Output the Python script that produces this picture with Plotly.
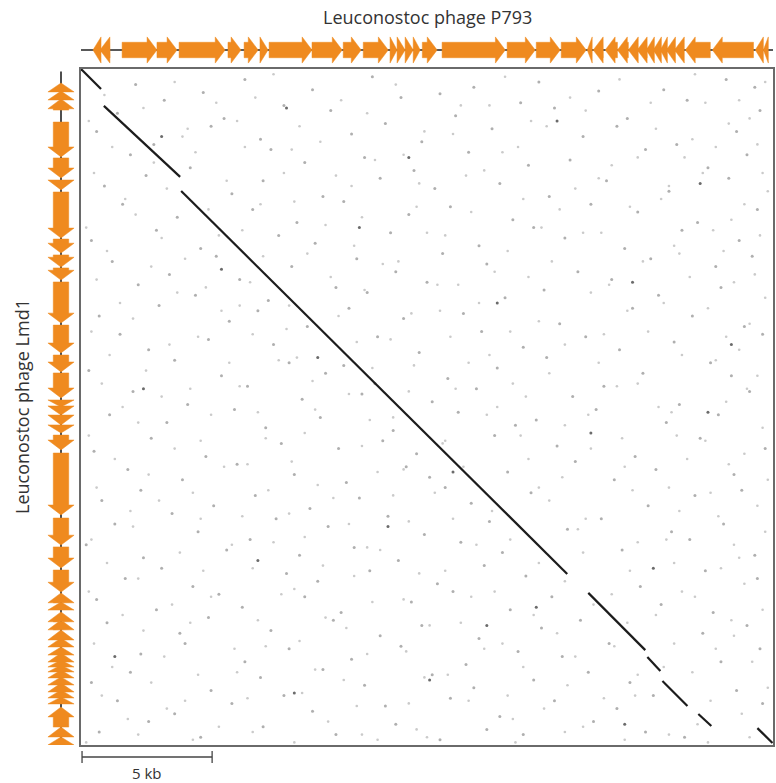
import plotly.graph_objects as go

# ---- genome lengths (kb) ----
len_p793 = 26.6
len_lmd1 = 26.0

# ---- gene map of Leuconostoc phage P793 (x axis), kb ----
p793_start = [0.46, 0.73, 1.58, 2.92, 3.77, 5.65, 6.27, 6.88, 7.23, 8.88, 10.08, 10.85,
              11.88, 12.15, 12.46, 12.77, 13.12, 13.88, 16.38, 17.50, 18.46, 19.46, 19.69,
              20.15, 20.62, 21.04, 21.38, 21.73, 22.00, 22.27, 22.50, 22.81, 23.23, 24.27,
              25.92, 26.23]
p793_end = [0.77, 1.12, 2.92, 3.69, 5.54, 6.15, 6.81, 7.19, 8.88, 10.04, 10.77, 11.81,
            12.15, 12.46, 12.77, 13.04, 13.69, 16.31, 17.46, 18.42, 19.42, 19.65, 20.08,
            20.62, 21.04, 21.42, 21.77, 22.04, 22.31, 22.54, 22.85, 23.19, 24.19, 25.85,
            26.23, 26.42]
p793_strand = ['-', '-', '+', '+', '+', '+', '+', '+', '+', '+', '+', '+',
               '+', '+', '+', '+', '+', '+', '+', '+', '+', '-', '-',
               '-', '-', '-', '-', '-', '-', '-', '-', '-', '-', '-',
               '-', '-']

# ---- gene map of Leuconostoc phage Lmd1 (y axis), kb ----
lmd1_start = [0.54, 0.85, 1.15, 2.04, 3.42, 4.27, 4.73, 6.54, 7.15, 7.65, 8.19, 9.85,
              11.00, 11.69, 12.73, 12.96, 13.31, 13.69, 14.08, 14.77, 17.27, 18.38, 19.27,
              20.15, 20.50, 20.88, 21.19, 21.58, 21.88, 22.23, 22.46, 22.73, 22.92, 23.12,
              23.38, 23.62, 23.88, 24.15, 24.54, 25.31, 25.69]
lmd1_end = [0.88, 1.19, 1.58, 3.38, 4.19, 4.65, 6.50, 7.08, 7.62, 8.12, 9.77, 10.92,
            11.65, 12.65, 13.00, 13.31, 13.69, 14.00, 14.65, 17.15, 18.31, 19.19, 20.12,
            20.54, 20.81, 21.27, 21.58, 21.96, 22.23, 22.54, 22.81, 23.00, 23.19, 23.42,
            23.69, 23.96, 24.19, 24.42, 25.31, 25.69, 26.00]
lmd1_strand = ['-', '-', '-', '+', '+', '+', '+', '+', '+', '+', '+', '+',
               '+', '+', '+', '+', '+', '+', '+', '+', '+', '+', '+',
               '-', '-', '-', '-', '-', '-', '-', '-', '-', '-', '-',
               '-', '-', '-', '-', '-', '-', '-']

# ---- collinear match segments (P793 kb -> Lmd1 kb) ----
seg_x0 = [0.00, 0.88, 3.85, 19.50, 21.77, 22.35, 23.73, 26.00]
seg_y0 = [0.00, 1.42, 4.69, 20.15, 22.62, 23.54, 24.81, 25.35]
seg_x1 = [0.77, 3.81, 18.69, 21.69, 22.27, 23.31, 24.23, 26.58]
seg_y1 = [0.77, 4.15, 19.42, 22.35, 23.15, 24.50, 25.27, 25.92]

# ---- scattered short word matches (P793 kb, Lmd1 kb) ----
dot_x = [2.1, 4.7, 6.3, 8.9, 11.2, 13.8, 15.1, 17.6, 19.9, 22.4, 24.8, 25.9,
         1.4, 3.2, 5.5, 7.8, 9.6, 12.3, 14.4, 16.9, 18.2, 21.0, 23.3, 26.1,
         0.6, 2.8, 5.0, 6.9, 10.4, 11.7, 13.1, 15.8, 19.3, 20.6, 22.9, 25.2,
         1.9, 4.2, 7.3, 8.6, 10.9, 12.8, 14.9, 17.2, 18.8, 21.7, 24.1, 25.6,
         0.9, 2.5, 5.8, 7.0, 9.3, 11.5, 13.6, 16.1, 18.0, 20.2, 22.6, 24.9,
         1.6, 3.7, 6.6, 8.3, 10.1, 12.6, 14.2, 16.6, 19.6, 21.4, 23.7, 26.0,
         0.4, 2.9, 4.6, 7.6, 9.0, 11.9, 15.3, 17.4, 18.6, 20.9, 23.1, 25.3,
         1.2, 3.4, 5.2, 8.1, 10.6, 12.1, 13.9, 15.6, 19.1, 21.9, 24.4, 25.8,
         2.2, 4.4, 6.1, 7.2, 9.8, 11.0, 13.3, 16.3, 17.8, 20.4, 22.2, 24.6,
         0.7, 3.0, 5.7, 6.8, 8.7, 10.3, 12.4, 14.7, 18.4, 21.2, 23.5, 25.5,
         1.5, 2.6, 4.9, 7.4, 11.4, 13.0, 15.4, 17.0, 19.4, 20.7, 22.8, 26.2,
         0.3, 3.6, 5.4, 8.0, 9.4, 10.1, 14.1, 16.0, 17.9, 21.6, 24.2, 25.0,
         2.0, 4.1, 6.4, 8.5, 10.8, 11.3, 13.5, 15.2, 18.9, 20.1, 23.0, 25.7,
         1.1, 3.3, 5.9, 7.1, 9.2, 12.0, 14.5, 16.7, 17.5, 19.8, 22.5, 24.5,
         0.5, 2.7, 4.8, 7.7, 9.9, 11.6, 12.9, 15.9, 18.3, 21.3, 23.8, 26.3,
         1.8, 3.9, 6.0, 8.2, 10.2, 12.5, 13.4, 16.4, 19.0, 20.5, 22.1, 25.1,
         0.8, 2.3, 5.1, 6.7, 8.8, 10.7, 14.0, 15.0, 17.3, 21.8, 23.6, 25.4,
         1.3, 3.5, 4.5, 7.5, 9.5, 11.8, 13.2, 15.7, 18.7, 20.0, 22.7, 24.7,
         0.2, 2.4, 5.6, 6.5, 8.4, 10.5, 12.2, 14.6, 16.2, 20.8, 23.4, 25.9,
         1.7, 3.1, 4.3, 7.9, 9.1, 11.1, 13.7, 15.5, 17.1, 21.5, 24.0, 26.0,
         0.6, 2.9, 5.3, 6.2, 8.6, 10.0, 12.7, 14.3, 16.5, 18.1, 22.3, 24.3,
         1.0, 3.8, 4.9, 7.3, 9.7, 11.5, 13.1, 15.3, 17.7, 19.2, 23.9, 25.6,
         2.3, 4.0, 6.3, 8.0, 10.4, 12.3, 14.8, 16.8, 18.5, 20.3, 24.6, 26.1,
         0.4, 1.9, 5.0, 6.9, 9.3, 10.9, 13.5, 15.1, 17.4, 19.5, 21.1, 25.2,
         1.4, 3.6, 5.8, 7.8, 8.9, 11.7, 14.2, 16.1, 18.2, 20.6, 22.0, 26.2,
         0.7, 2.6, 4.6, 7.0, 9.8, 12.1, 13.8, 15.6, 17.0, 19.7, 21.7, 23.2]
dot_y = [0.6, 0.9, 0.4, 0.8, 0.3, 0.95, 0.7, 0.5, 0.85, 0.8, 0.4, 0.7,
         1.7, 1.2, 1.9, 1.4, 1.6, 1.1, 1.8, 1.3, 1.5, 1.9, 1.2, 1.6,
         2.4, 2.9, 2.2, 2.7, 2.5, 2.1, 2.8, 2.3, 2.6, 2.2, 2.9, 2.4,
         3.3, 3.8, 3.1, 3.6, 3.4, 3.9, 3.2, 3.7, 3.5, 3.1, 3.8, 3.3,
         4.5, 4.1, 4.8, 4.3, 4.9, 4.2, 4.6, 4.4, 4.9, 4.3, 4.7, 4.2,
         5.2, 5.7, 5.4, 5.9, 5.1, 5.6, 5.3, 5.8, 5.2, 5.5, 5.9, 5.4,
         6.6, 6.2, 6.9, 6.4, 6.7, 6.3, 6.8, 6.1, 6.5, 6.9, 6.2, 6.6,
         7.4, 7.9, 7.2, 7.6, 7.3, 7.8, 7.1, 7.5, 7.8, 7.3, 7.6, 7.2,
         8.3, 8.7, 8.1, 8.9, 8.4, 8.6, 8.2, 8.8, 8.5, 8.1, 8.7, 8.4,
         9.5, 9.1, 9.7, 9.3, 9.9, 9.2, 9.6, 9.4, 9.8, 9.2, 9.5, 9.9,
         10.2, 10.8, 10.4, 10.6, 10.3, 10.9, 10.1, 10.7, 10.3, 10.8, 10.5, 10.2,
         11.6, 11.2, 11.8, 11.3, 11.7, 11.4, 11.9, 11.5, 11.1, 11.7, 11.3, 11.8,
         12.4, 12.9, 12.2, 12.7, 12.5, 12.1, 12.8, 12.3, 12.6, 12.2, 12.9, 12.4,
         13.3, 13.6, 13.1, 13.8, 13.4, 13.9, 13.2, 13.7, 13.5, 13.1, 13.6, 13.3,
         14.7, 14.2, 14.9, 14.4, 14.6, 14.3, 14.8, 14.1, 14.5, 14.9, 14.2, 14.6,
         15.4, 15.8, 15.2, 15.6, 15.9, 15.3, 15.7, 15.5, 15.1, 15.8, 15.4, 15.6,
         16.6, 16.2, 16.8, 16.4, 16.9, 16.5, 16.1, 16.7, 16.3, 16.8, 16.4, 16.2,
         17.5, 17.1, 17.8, 17.3, 17.6, 17.2, 17.9, 17.4, 17.7, 17.3, 17.8, 17.5,
         18.3, 18.8, 18.5, 18.1, 18.7, 18.4, 18.9, 18.2, 18.6, 18.5, 18.1, 18.7,
         19.6, 19.2, 19.9, 19.4, 19.7, 19.3, 19.8, 19.1, 19.5, 19.9, 19.3, 19.6,
         20.4, 20.8, 20.2, 20.7, 20.3, 20.9, 20.5, 20.1, 20.8, 20.3, 20.6, 20.9,
         21.3, 21.7, 21.1, 21.6, 21.2, 21.8, 21.4, 21.9, 21.5, 21.2, 21.7, 21.4,
         22.5, 22.1, 22.8, 22.3, 22.7, 22.2, 22.9, 22.4, 22.6, 22.1, 22.8, 22.3,
         23.6, 23.2, 23.9, 23.4, 23.1, 23.7, 23.3, 23.8, 23.5, 23.2, 23.6, 23.9,
         24.3, 24.8, 24.4, 24.1, 24.7, 24.5, 24.2, 24.9, 24.3, 24.6, 24.1, 24.4,
         25.5, 25.1, 25.7, 25.3, 25.6, 25.2, 25.8, 25.4, 25.6, 25.1, 25.5, 25.7]

faint_x = [0.9, 3.6, 5.2, 7.4, 10.0, 12.1, 14.6, 16.3, 18.8, 20.7, 21.9, 23.6, 25.3, 26.3,
           0.3, 2.4, 4.1, 6.7, 8.4, 11.0, 13.2, 15.7, 17.3, 19.4, 22.1, 24.0, 24.9, 25.7,
           1.2, 3.9, 4.4, 6.0, 8.1, 9.2, 12.4, 14.3, 16.8, 17.9, 21.4, 23.5, 24.4, 26.0,
           0.5, 2.8, 5.6, 6.3, 9.8, 11.3, 13.0, 15.5, 16.2, 19.9, 20.4, 22.6, 23.2, 26.2,
           1.7, 3.3, 4.9, 7.8, 8.2, 10.4, 12.9, 14.8, 17.0, 19.0, 21.1, 23.9, 25.5, 26.4,
           0.2, 2.1, 5.3, 6.9, 9.4, 10.8, 13.3, 15.0, 17.7, 18.4, 20.0, 22.3, 24.3, 25.0,
           1.0, 3.1, 4.0, 6.2, 8.7, 10.5, 12.2, 14.0, 16.4, 19.3, 21.6, 22.8, 24.7, 26.1,
           0.6, 2.7, 4.8, 7.0, 9.6, 11.6, 13.7, 15.9, 17.2, 18.1, 20.3, 23.0, 25.1, 25.9,
           1.5, 3.7, 5.4, 6.5, 8.0, 10.9, 12.7, 14.5, 15.3, 19.6, 21.0, 23.4, 24.1, 26.3,
           0.4, 2.0, 4.5, 6.1, 7.9, 9.9, 11.9, 13.8, 16.5, 17.6, 20.1, 22.4, 24.8, 25.7,
           1.1, 3.4, 5.7, 6.6, 8.3, 10.6, 12.8, 14.2, 15.7, 18.6, 19.9, 21.8, 24.4, 25.3,
           0.8, 2.5, 4.2, 7.6, 8.9, 11.2, 12.6, 14.9, 16.6, 18.0, 20.6, 23.1, 25.6, 26.0,
           1.6, 3.1, 5.0, 6.1, 9.0, 10.3, 12.0, 14.4, 16.0, 17.1, 19.5, 21.4, 22.7, 24.8,
           0.3, 2.2, 4.6, 6.8, 8.6, 11.1, 13.9, 15.6, 16.9, 18.6, 20.8, 22.2, 24.0, 26.2,
           1.3, 3.6, 5.5, 7.1, 8.1, 10.8, 12.4, 14.0, 17.2, 19.6, 20.9, 22.9, 24.9, 25.5,
           0.6, 2.6, 4.3, 6.4, 9.1, 11.4, 12.0, 14.7, 17.6, 18.5, 21.2, 23.3, 24.2, 26.4,
           1.9, 3.0, 4.6, 7.2, 8.0, 9.7, 12.6, 13.6, 15.8, 18.0, 19.4, 22.6, 24.5, 26.0,
           0.4, 2.0, 5.8, 6.2, 8.6, 10.3, 11.0, 14.3, 16.5, 19.1, 21.4, 23.0, 25.1, 26.3,
           1.0, 3.8, 4.7, 7.4, 9.3, 11.5, 13.0, 15.2, 17.6, 19.3, 21.1, 22.5, 24.6, 25.3,
           0.3, 2.2, 5.0, 6.6, 8.2, 10.5, 12.4, 14.0, 15.9, 18.6, 20.4, 22.8, 23.6, 25.5,
           1.6, 3.5, 4.2, 7.7, 9.4, 11.2, 13.4, 15.0, 17.4, 19.7, 21.0, 23.1, 25.0, 26.2,
           0.5, 2.4, 5.9, 6.8, 8.4, 10.2, 12.5, 14.6, 16.2, 18.3, 20.5, 22.1, 24.4, 25.1,
           1.2, 3.2, 4.5, 7.1, 9.0, 11.0, 13.2, 15.5, 17.0, 19.0, 21.4, 22.8, 23.5, 25.8,
           0.8, 2.7, 4.0, 6.0, 8.5, 10.1, 12.6, 14.1, 16.4, 18.7, 20.1, 22.4, 24.2, 26.4,
           1.8, 3.3, 5.3, 6.4, 9.5, 10.6, 12.9, 14.9, 16.6, 17.8, 19.3, 21.3, 23.7, 25.4,
           0.2, 2.2, 4.3, 6.6, 8.2, 10.8, 11.4, 13.3, 16.7, 18.6, 20.9, 22.6, 24.1, 25.7]
faint_y = [1.0, 0.5, 1.3, 0.2, 1.2, 0.6, 1.4, 0.3, 1.1, 0.4, 1.3, 0.2, 1.2, 0.5,
           2.0, 1.5, 2.3, 1.1, 2.2, 1.7, 2.4, 1.4, 2.0, 1.6, 2.3, 1.3, 2.1, 1.9,
           3.0, 2.6, 3.2, 2.0, 3.1, 2.8, 3.3, 2.5, 3.0, 2.2, 3.4, 2.7, 3.0, 2.9,
           4.0, 3.6, 4.3, 3.0, 4.1, 3.5, 4.4, 3.9, 3.2, 4.2, 3.7, 4.5, 3.4, 4.0,
           5.0, 4.6, 5.4, 4.0, 5.1, 4.5, 5.3, 4.1, 5.0, 4.6, 5.3, 4.0, 5.2, 4.7,
           6.1, 5.6, 6.4, 5.2, 6.0, 5.7, 6.3, 5.5, 6.1, 5.4, 6.3, 5.0, 6.2, 5.8,
           7.0, 6.5, 7.3, 6.2, 7.1, 6.8, 7.4, 6.4, 7.0, 6.3, 7.4, 6.8, 7.0, 6.4,
           8.1, 7.6, 8.4, 7.2, 8.0, 7.5, 8.3, 7.8, 8.0, 7.4, 8.3, 7.1, 8.2, 7.9,
           9.0, 8.6, 9.3, 8.2, 9.1, 8.5, 9.4, 8.3, 9.0, 8.6, 9.3, 8.0, 9.2, 8.8,
           10.1, 9.6, 10.3, 9.1, 10.0, 9.5, 10.4, 9.3, 10.1, 9.7, 10.2, 9.0, 10.3, 9.8,
           11.0, 10.6, 11.3, 10.2, 11.1, 10.5, 11.4, 10.3, 11.0, 10.6, 11.3, 10.1, 11.2, 10.8,
           12.1, 11.6, 12.3, 11.2, 12.0, 11.5, 12.4, 11.3, 12.1, 11.7, 12.2, 11.0, 12.3, 11.8,
           13.0, 12.6, 13.3, 12.2, 13.1, 12.5, 13.4, 12.3, 13.0, 12.6, 13.3, 12.1, 13.2, 12.8,
           14.1, 13.6, 14.3, 13.2, 14.0, 13.5, 14.4, 13.3, 14.1, 13.7, 14.2, 13.0, 14.3, 13.8,
           15.0, 14.6, 15.3, 14.2, 15.1, 14.5, 15.4, 14.3, 15.0, 14.6, 15.3, 14.1, 15.2, 14.8,
           16.1, 15.6, 16.3, 15.2, 16.0, 15.5, 16.4, 15.3, 16.1, 15.7, 16.2, 15.0, 16.3, 15.8,
           17.0, 16.6, 17.3, 16.2, 17.1, 16.5, 17.4, 16.3, 17.0, 16.6, 17.3, 16.1, 17.2, 16.8,
           18.1, 17.6, 18.3, 17.2, 18.0, 17.5, 18.4, 17.3, 18.1, 17.7, 18.2, 17.0, 18.3, 17.8,
           19.0, 18.6, 19.3, 18.2, 19.1, 18.5, 19.4, 18.3, 19.0, 18.6, 19.3, 18.1, 19.2, 18.8,
           20.1, 19.6, 20.3, 19.2, 20.0, 19.5, 20.4, 19.3, 20.1, 19.7, 20.2, 19.0, 20.3, 19.8,
           21.0, 20.6, 21.3, 20.2, 21.1, 20.5, 21.4, 20.3, 21.0, 20.6, 21.3, 20.1, 21.2, 20.8,
           22.1, 21.6, 22.3, 21.2, 22.0, 21.5, 22.4, 21.3, 22.1, 21.7, 22.2, 21.0, 22.3, 21.8,
           23.0, 22.6, 23.3, 22.2, 23.1, 22.5, 23.4, 22.3, 23.0, 22.6, 23.3, 22.1, 23.2, 22.8,
           24.1, 23.6, 24.3, 23.2, 24.0, 23.5, 24.4, 23.3, 24.1, 23.7, 24.2, 23.0, 24.3, 23.8,
           25.0, 24.6, 25.3, 24.2, 25.1, 24.5, 25.4, 24.3, 25.0, 24.6, 25.3, 24.1, 25.2, 24.8,
           25.9, 25.6, 25.8, 25.5, 25.9, 25.6, 25.8, 25.7, 25.9, 25.5, 25.8, 25.6, 25.9, 25.7]

dark_x = [3.1, 7.9, 12.6, 18.3, 23.8, 5.4, 10.7, 16.0, 21.2, 25.0, 2.4, 9.1,
          14.3, 19.6, 24.1, 6.8, 11.8, 17.5, 22.0, 1.3, 8.2, 13.4, 20.9, 15.6]
dark_y = [2.6, 1.5, 3.4, 2.0, 4.4, 7.7, 6.1, 9.0, 8.2, 10.6, 12.3, 11.1,
          15.5, 14.0, 13.2, 18.9, 17.6, 20.7, 19.2, 22.6, 24.0, 23.5, 25.2, 21.4]

ORANGE = '#EF8A1F'
H_HEAD = 0.98   # half height of arrow head
H_BODY = 0.58   # half height of arrow body
HEAD_LEN = 0.38  # kb


def arrow_outline(start, end, strand):
    """Return (along, across) outline of one gene arrow."""
    length = end - start
    head = min(HEAD_LEN, length)
    if strand == '+':
        tip, base, neck = end, start, end - head
    else:
        tip, base, neck = start, end, start + head
    if head >= length:
        along = [base, tip, base, base]
        across = [-H_HEAD, 0, H_HEAD, -H_HEAD]
    else:
        along = [base, neck, neck, tip, neck, neck, base, base]
        across = [-H_BODY, -H_BODY, -H_HEAD, 0, H_HEAD, H_BODY, H_BODY, -H_BODY]
    return along, across


def gene_polys(starts, ends, strands):
    A, C = [], []
    for s, e, st in zip(starts, ends, strands):
        a, c = arrow_outline(s, e, st)
        A += a + [None]
        C += c + [None]
    return A, C


fig = go.Figure()

# random-hit background dots
fig.add_trace(go.Scatter(x=faint_x, y=faint_y, mode='markers', xaxis='x', yaxis='y',
                         marker=dict(size=2.6, color='rgba(150,150,150,0.5)', line=dict(width=0)),
                         hoverinfo='skip', showlegend=False))
fig.add_trace(go.Scatter(x=dot_x, y=dot_y, mode='markers', xaxis='x', yaxis='y',
                         marker=dict(size=3, color='rgba(110,110,110,0.55)', line=dict(width=0)),
                         hoverinfo='skip', showlegend=False))
fig.add_trace(go.Scatter(x=dark_x, y=dark_y, mode='markers', xaxis='x', yaxis='y',
                         marker=dict(size=3, color='rgba(70,70,70,0.8)', line=dict(width=0)),
                         hoverinfo='skip', showlegend=False))

# collinear segments
lx, ly = [], []
for x0, y0, x1, y1 in zip(seg_x0, seg_y0, seg_x1, seg_y1):
    lx += [x0, x1, None]
    ly += [y0, y1, None]
fig.add_trace(go.Scatter(x=lx, y=ly, mode='lines', xaxis='x', yaxis='y',
                         line=dict(color='#1c1c1c', width=2.2),
                         hoverinfo='skip', showlegend=False))

# top genome backbone + genes
fig.add_trace(go.Scatter(x=[-0.05, len_p793 + 0.02], y=[0, 0], mode='lines', xaxis='x', yaxis='y2',
                         line=dict(color='#222', width=1.6), hoverinfo='skip', showlegend=False))
ta, tc = gene_polys(p793_start, p793_end, p793_strand)
fig.add_trace(go.Scatter(x=ta, y=tc, mode='lines', fill='toself', fillcolor=ORANGE,
                         xaxis='x', yaxis='y2', line=dict(color=ORANGE, width=0.5),
                         hoverinfo='skip', showlegend=False))

# left genome backbone + genes
fig.add_trace(go.Scatter(x=[0, 0], y=[0.1, len_lmd1 + 0.35], mode='lines', xaxis='x2', yaxis='y',
                         line=dict(color='#222', width=1.6), hoverinfo='skip', showlegend=False))
la, lc = gene_polys(lmd1_start, lmd1_end, lmd1_strand)
fig.add_trace(go.Scatter(x=lc, y=la, mode='lines', fill='toself', fillcolor=ORANGE,
                         xaxis='x2', yaxis='y', line=dict(color=ORANGE, width=0.5),
                         hoverinfo='skip', showlegend=False))

W, Hpx = 776, 783
px = lambda v: v / W
py = lambda v: 1 - v / Hpx

frame = dict(showline=True, mirror=True, linecolor='#6a6a6a', linewidth=1.5,
             showgrid=False, zeroline=False, showticklabels=False, ticks='')

fig.update_layout(
    width=W, height=Hpx,
    margin=dict(l=0, r=0, t=0, b=0),
    paper_bgcolor='white', plot_bgcolor='white',
    xaxis=dict(domain=[px(81), px(773)], range=[0, len_p793], anchor='y', **frame),
    yaxis=dict(domain=[py(745), py(69)], range=[len_lmd1, 0], anchor='x', **frame),
    yaxis2=dict(domain=[py(66), py(34)], range=[-1.2, 1.2], anchor='x', visible=False),
    xaxis2=dict(domain=[px(45), px(77)], range=[-1.2, 1.2], anchor='y', visible=False),
    font=dict(family='Open Sans, Lato, sans-serif', color='#333'),
    showlegend=False,
)

# scale bar (5 kb)
scale_kb = 5
bar_y = py(757)
fig.add_shape(type='line', xref='x', yref='paper', x0=0.04, x1=0.04 + scale_kb, y0=bar_y, y1=bar_y,
              line=dict(color='#444', width=1.3))
for xv in (0.04, 0.04 + scale_kb):
    fig.add_shape(type='line', xref='x', yref='paper', x0=xv, x1=xv, y0=py(751), y1=py(763),
                  line=dict(color='#444', width=1.3))
fig.add_annotation(x=0.04 + scale_kb / 2, y=py(773), xref='x', yref='paper', text='5 kb',
                   showarrow=False, font=dict(size=15, color='#333'), yanchor='middle')

# genome titles
fig.add_annotation(x=px(427), y=py(17), xref='paper', yref='paper', text='Leuconostoc phage P793',
                   showarrow=False, font=dict(size=18, color='#333'), yanchor='middle')
fig.add_annotation(x=px(22), y=py(407), xref='paper', yref='paper', text='Leuconostoc phage Lmd1',
                   showarrow=False, textangle=-90, font=dict(size=18, color='#333'), xanchor='center')

fig.write_html('out.html')
